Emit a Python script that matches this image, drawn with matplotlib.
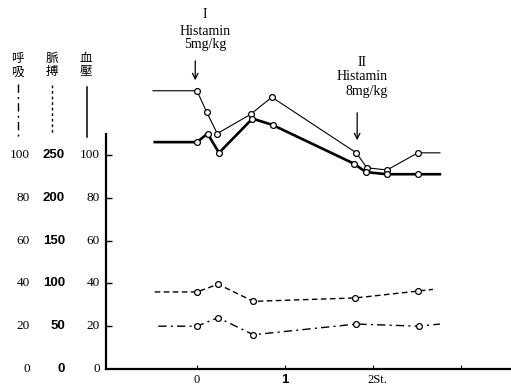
import matplotlib
matplotlib.use("Agg")
import matplotlib.pyplot as plt
from matplotlib.lines import Line2D

# time in hours after first injection
t_upper = [-0.5, 0, 0.11, 0.23, 0.61, 0.85, 1.81, 1.93, 2.16, 2.51, 2.76]
upper = [130, 130, 120, 110, 119, 127, 101, 94, 93, 101, 101]

t_bp = [-0.48, 0, 0.12, 0.25, 0.63, 0.86, 1.78, 1.92, 2.16, 2.51, 2.76]
bp = [106, 106, 110, 101, 117, 114, 96, 92, 91, 91, 91]

t_pulse = [-0.48, 0, 0.24, 0.64, 1.80, 2.51, 2.68]
pulse = [90, 90, 99, 79, 83, 91, 93]   # beats/min, scale 0-250

t_resp = [-0.44, 0, 0.24, 0.64, 1.81, 2.52, 2.76]
resp = [20, 20, 24, 16, 21, 20, 21]    # per min, scale 0-100

resp_ticks = [0, 20, 40, 60, 80, 100]
pulse_ticks = [0, 50, 100, 150, 200, 250]
bp_ticks = [0, 20, 40, 60, 80, 100]
x_ticks = [0, 1, 2]
x_labels = ["0", "1", "2St."]

W, H = 511, 387
fig = plt.figure(figsize=(W / 100, H / 100), dpi=100)
ax = fig.add_axes([106 / W, (H - 369) / H, 405 / W, 369 / H])
ax.set_xlim(-1.034, 3.568)
ax.set_ylim(0, 172.4)

serif = "Liberation Serif"
mk = dict(marker="o", ms=4.2, mfc="white", mec="black", mew=0.9)

ax.plot(t_upper, upper, color="black", lw=0.8, markevery=list(range(1, len(upper) - 1)), **mk)
ax.plot(t_bp, bp, color="black", lw=1.9, markevery=list(range(1, len(bp) - 1)), **mk)
ax.plot(t_pulse, [p / 2.5 for p in pulse], color="black", lw=1.0, dashes=(4, 2.5),
        markevery=list(range(1, len(pulse) - 1)), **mk)
ax.plot(t_resp, resp, color="black", lw=1.0, dashes=(6, 3, 1.5, 3),
        markevery=list(range(1, len(resp) - 1)), **mk)

for s in ["top", "right"]:
    ax.spines[s].set_visible(False)
ax.spines["left"].set_linewidth(1.6)
ax.spines["bottom"].set_linewidth(1.6)
ax.spines["left"].set_bounds(0, 110)

ax.set_yticks(bp_ticks[1:])
ax.set_yticklabels([])
ax.tick_params(axis="y", direction="in", length=4, width=1)
ax.set_xticks([0, 1, 2, 3])
ax.set_xticklabels([])
ax.tick_params(axis="x", direction="in", length=3, width=0.8)

# y labels: three scales
trans = ax.get_yaxis_transform()
for v in resp_ticks:
    ax.text((30 - 106) / 405, v, str(v), transform=trans, ha="right", va="center",
            family=serif, fontsize=9.5, clip_on=False)
for i, v in enumerate(pulse_ticks):
    ax.text((65 - 106) / 405, bp_ticks[i], str(v), transform=trans, ha="right", va="center",
            family="Liberation Sans", fontweight="bold", fontsize=9.5, clip_on=False)
for v in bp_ticks:
    ax.text((100 - 106) / 405, v, str(v), transform=trans, ha="right", va="center",
            family=serif, fontsize=9.5, clip_on=False)

# x labels
ax.text(0, -5.0, x_labels[0], ha="center", va="center", family=serif, fontsize=9, clip_on=False)
ax.text(1, -5.0, x_labels[1], ha="center", va="center", family="Liberation Sans",
        fontweight="bold", fontsize=9.5, clip_on=False)
ax.text(1.94, -5.0, x_labels[2], ha="left", va="center", family=serif, fontsize=9, clip_on=False)

# injection marks
ax.text(0.09, 165.4, "I", ha="center", va="center", family=serif, fontsize=10)
ax.text(0.09, 157.9, "Histamin", ha="center", va="center", family=serif, fontsize=10)
ax.text(0.09, 151.4, "5mg/kg", ha="center", va="center", family=serif, fontsize=10)
ax.annotate("", xy=(-0.02, 133.6), xytext=(-0.02, 145.3),
            arrowprops=dict(arrowstyle="->", color="black", lw=0.9))

ax.text(1.875, 143, "II", ha="center", va="center", family=serif, fontsize=10)
ax.text(1.88, 136.7, "Histamin", ha="center", va="center", family=serif, fontsize=10)
ax.text(1.93, 129.5, "8mg/kg", ha="center", va="center", family=serif, fontsize=10)
ax.annotate("", xy=(1.82, 105.6), xytext=(1.82, 121),
            arrowprops=dict(arrowstyle="->", color="black", lw=0.9))

# key on the left
cjk = "Noto Sans CJK JP"
for x, chars in [(17.5, "呼吸"), (52, "脈搏"), (86, "血壓")]:
    fig.text(x / W, 1 - 58 / H, chars[0], ha="center", va="center", family=cjk, fontsize=9)
    fig.text(x / W, 1 - 72 / H, chars[1], ha="center", va="center", family=cjk, fontsize=9)

fig.add_artist(Line2D([18 / W, 18 / W], [1 - 84 / H, 1 - 137 / H], transform=fig.transFigure,
                      color="black", lw=1.0, dashes=(6, 3, 1.5, 3)))
fig.add_artist(Line2D([52 / W, 52 / W], [1 - 85 / H, 1 - 135 / H], transform=fig.transFigure,
                      color="black", lw=1.0, dashes=(2, 2)))
fig.add_artist(Line2D([87 / W, 87 / W], [1 - 87 / H, 1 - 137 / H], transform=fig.transFigure,
                      color="black", lw=1.1))

fig.savefig("out.png", dpi=100)
